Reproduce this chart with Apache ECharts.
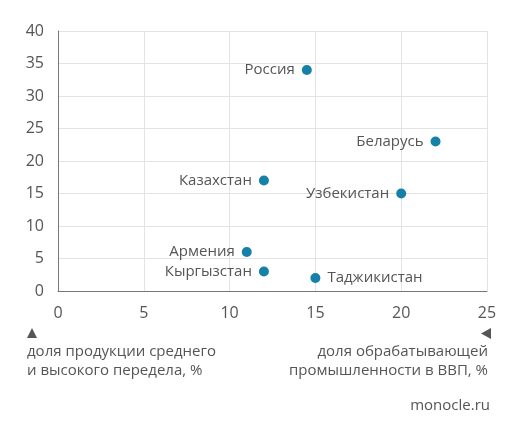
<!DOCTYPE html>
<html>
<head>
<meta charset="utf-8">
<script src="https://cdn.jsdelivr.net/npm/echarts@6/dist/echarts.min.js"></script>
<style>
  html, body { margin: 0; padding: 0; background: #fff; }
  #chart { width: 517px; height: 439px; }
</style>
</head>
<body>
<div id="chart"></div>
<script>
// country, x (доля обрабатывающей промышленности в ВВП), y (доля продукции среднего и высокого передела)
const countries = ['Россия', 'Беларусь', 'Казахстан', 'Узбекистан', 'Армения', 'Кыргызстан', 'Таджикистан']
const industryShare = [14.5, 22, 12, 20, 11, 12, 15]
const highTechShare = [34, 23, 17, 15, 6, 3, 2]
const labelSide = ['left', 'left', 'left', 'left', 'left', 'left', 'right']

const xTicks = [0, 5, 10, 15, 20, 25]
const yTicks = [0, 5, 10, 15, 20, 25, 30, 35, 40]

const font = '"Open Sans", "Noto Sans", sans-serif'
const grey = '#555'

const points = countries.map((name, i) => ({
    name: name,
    value: [industryShare[i], highTechShare[i]],
    label: { position: labelSide[i] }
}))

const chart = echarts.init(document.getElementById('chart'))

const option = {
    animation: false,
    textStyle: { fontFamily: font },
    grid: {
        left: 58,
        right: 30,
        top: 31,
        bottom: 148
    },
    xAxis: {
        type: 'value',
        min: xTicks[0],
        max: xTicks[xTicks.length - 1],
        interval: 5,
        axisLine: { show: true, onZero: false, lineStyle: { color: '#777', width: 1 } },
        axisTick: { show: false },
        axisLabel: { color: grey, fontSize: 16, margin: 14, fontFamily: font },
        splitLine: { show: true, lineStyle: { color: '#e3e3e3', width: 1 } }
    },
    yAxis: {
        type: 'value',
        min: yTicks[0],
        max: yTicks[yTicks.length - 1],
        interval: 5,
        axisLine: { show: true, onZero: false, lineStyle: { color: '#777', width: 1 } },
        axisTick: { show: false },
        axisLabel: { color: grey, fontSize: 16, margin: 14, fontFamily: font },
        splitLine: { show: true, lineStyle: { color: '#e3e3e3', width: 1 } }
    },
    series: [
        {
            type: 'scatter',
            data: points,
            symbolSize: 10,
            itemStyle: { color: '#1580a8', opacity: 1 },
            label: {
                show: true,
                formatter: '{b}',
                color: grey,
                fontSize: 15,
                distance: 7,
                fontFamily: font
            }
        }
    ],
    graphic: [
        {
            type: 'polygon',
            shape: { points: [[27, 338], [32, 328], [37, 338]] },
            style: { fill: '#555' }
        },
        {
            type: 'text',
            x: 27,
            y: 342,
            style: {
                text: 'доля продукции среднего\nи высокого передела, %',
                fill: grey,
                font: '15px ' + font,
                lineHeight: 19
            }
        },
        {
            type: 'polygon',
            shape: { points: [[491, 328], [481, 333.5], [491, 339]] },
            style: { fill: '#555' }
        },
        {
            type: 'text',
            x: 488,
            y: 342,
            style: {
                text: 'доля обрабатывающей\nпромышленности в ВВП, %',
                fill: grey,
                font: '15px ' + font,
                lineHeight: 19,
                align: 'right'
            }
        },
        {
            type: 'text',
            x: 490,
            y: 398,
            style: { text: 'monocle.ru', fill: grey, font: '15px ' + font, align: 'right' }
        }
    ]
}

chart.setOption(option)
</script>
</body>
</html>
